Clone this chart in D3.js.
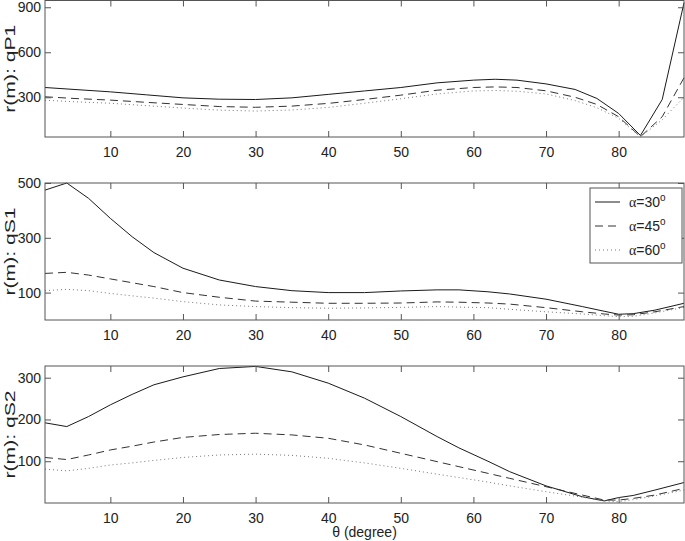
<!DOCTYPE html>
<html>
<head>
<meta charset="utf-8">
<script src="https://cdn.jsdelivr.net/npm/d3@7"></script>
<style>
  body { margin: 0; background: #fff; }
  svg text { font-family: "Liberation Sans", Arial, sans-serif; fill: #222; }
</style>
</head>
<body>
<div id="chart"></div>
<script>
// angle samples (degree) and radius values
var thetaP1 = [1, 5, 10, 15, 20, 25, 30, 35, 40, 45, 50, 55, 60, 63, 66, 70, 74, 77, 80, 83, 86, 89];
var p1a30 = [365, 352, 336, 316, 296, 287, 285, 296, 319, 342, 365, 396, 414, 420, 414, 389, 352, 292, 192, 45, 285, 930];
var p1a45 = [303, 292, 281, 266, 252, 238, 233, 241, 259, 285, 314, 347, 365, 369, 365, 343, 300, 252, 170, 37, 170, 430];
var p1a60 = [280, 270, 260, 244, 228, 214, 208, 215, 232, 260, 290, 322, 342, 345, 340, 322, 278, 230, 160, 36, 150, 300];

var thetaS = [1, 4, 7, 10, 13, 16, 20, 25, 30, 35, 40, 45, 50, 55, 58, 62, 65, 70, 75, 78, 80, 82, 85, 89];
var s1a30 = [474, 500, 444, 371, 304, 246, 189, 146, 122, 107, 100, 100, 106, 110, 110, 103, 95, 76, 49, 32, 21, 23, 36, 61];
var s1a45 = [170, 174, 164, 150, 136, 122, 100, 83, 69, 65, 61, 61, 62, 66, 65, 62, 58, 45, 30, 22, 18, 19, 30, 49];
var s1a60 = [107, 112, 107, 97, 88, 80, 67, 55, 49, 45, 43, 44, 46, 49, 47, 45, 39, 30, 22, 16, 12, 13, 26, 46];

var s2a30 = [192, 183, 207, 235, 260, 283, 302, 322, 327, 314, 287, 251, 207, 159, 132, 100, 75, 41, 15, 5, 13, 18, 31, 49];
var s2a45 = [109, 104, 115, 127, 136, 146, 157, 164, 167, 163, 155, 139, 119, 99, 87, 71, 59, 39, 19, 7, 7, 11, 19, 35];
var s2a60 = [81, 77, 83, 91, 96, 102, 109, 115, 117, 114, 107, 96, 83, 69, 61, 50, 41, 27, 14, 5, 3, 8, 17, 31];

var xTicks = [10, 20, 30, 40, 50, 60, 70, 80];
var legendLabels = ["30", "45", "60"];

// line styles for alpha = 30, 45, 60
var styles = [
  {stroke: "#1a1a1a", dash: null},
  {stroke: "#333", dash: "8,5"},
  {stroke: "#777", dash: "1,3"}
];

var W = 685, H = 541;
var left = 45, right = 684;

var svg = d3.select("#chart").append("svg")
    .attr("width", W)
    .attr("height", H);

var x = d3.scaleLinear().domain([1, 89]).range([left, right]);

function panel(top, bottom, yDomain, yTicks, label, theta, series) {
  var y = d3.scaleLinear().domain(yDomain).range([bottom, top]);
  var g = svg.append("g");

  var line = d3.line()
      .x(function(d) { return x(d[0]); })
      .y(function(d) { return y(d[1]); });

  series.forEach(function(s, i) {
    g.append("path")
      .datum(theta.map(function(t, j) { return [t, s[j]]; }))
      .attr("d", line)
      .attr("fill", "none")
      .attr("stroke", styles[i].stroke)
      .attr("stroke-width", 1)
      .attr("stroke-dasharray", styles[i].dash);
  });

  // inward ticks on all four sides, labels only bottom/left
  var tl = 6;
  g.append("g")
    .attr("transform", "translate(0," + bottom + ")")
    .call(d3.axisBottom(x).tickValues(xTicks).tickSize(-tl).tickPadding(10));
  g.append("g")
    .attr("transform", "translate(0," + top + ")")
    .call(d3.axisTop(x).tickValues(xTicks).tickSize(-tl).tickFormat(""));
  g.append("g")
    .attr("transform", "translate(" + left + ",0)")
    .call(d3.axisLeft(y).tickValues(yTicks).tickSize(-tl).tickPadding(4));
  g.append("g")
    .attr("transform", "translate(" + right + ",0)")
    .call(d3.axisRight(y).tickValues(yTicks).tickSize(-tl).tickFormat(""));

  g.selectAll(".domain").remove();
  g.selectAll(".tick line").attr("stroke", "#555");
  g.selectAll(".tick text")
    .style("font-size", "14px")
    .attr("fill", "#222");

  g.append("rect")
    .attr("x", left)
    .attr("y", top)
    .attr("width", right - left)
    .attr("height", bottom - top)
    .attr("fill", "none")
    .attr("stroke", "#555")
    .attr("stroke-width", 1);

  g.append("text")
    .attr("transform", "translate(15," + ((top + bottom) / 2) + ") rotate(-90)")
    .attr("text-anchor", "middle")
    .attr("textLength", 88)
    .attr("lengthAdjust", "spacingAndGlyphs")
    .style("font-size", "14px")
    .text(label);

  return {g: g, y: y};
}

panel(0.5, 137, [35, 945], [300, 600, 900], "r(m): qP1", thetaP1, [p1a30, p1a45, p1a60]);
var mid = panel(183, 320, [0, 500], [100, 300, 500], "r(m): qS1", thetaS, [s1a30, s1a45, s1a60]);
panel(366, 503, [0, 328], [100, 200, 300], "r(m): qS2", thetaS, [s2a30, s2a45, s2a60]);

// x label
svg.append("text")
  .attr("x", (left + right) / 2)
  .attr("y", 537)
  .attr("text-anchor", "middle")
  .style("font-size", "14px")
  .text("\u03b8 (degree)");

// legend inside the middle panel
var lg = mid.g.append("g");
lg.append("rect")
  .attr("x", 590)
  .attr("y", 188)
  .attr("width", 92)
  .attr("height", 75)
  .attr("fill", "#fff")
  .attr("stroke", "#555");

legendLabels.forEach(function(a, i) {
  var ly = 202 + i * 24;
  lg.append("line")
    .attr("x1", 595).attr("x2", 620)
    .attr("y1", ly).attr("y2", ly)
    .attr("stroke", styles[i].stroke)
    .attr("stroke-dasharray", styles[i].dash);
  var t = lg.append("text")
    .attr("x", 629)
    .attr("y", ly + 5)
    .style("font-size", "14px");
  t.append("tspan").style("font-family", "'Liberation Serif', serif").text("\u03b1");
  t.append("tspan").text("=" + a);
  t.append("tspan").attr("dy", -6).style("font-size", "10px").text("o");
});
</script>
</body>
</html>
